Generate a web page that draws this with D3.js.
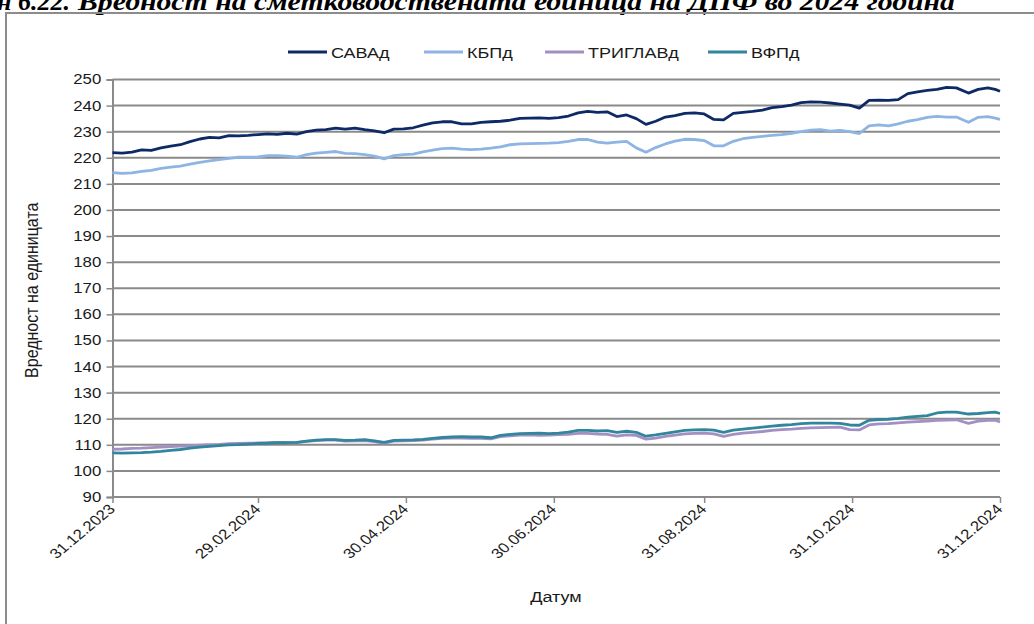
<!DOCTYPE html>
<html>
<head>
<meta charset="utf-8">
<script src="https://cdn.jsdelivr.net/npm/d3@7"></script>
<style>
  html, body { margin: 0; padding: 0; background: #fff; }
  svg { display: block; }
  text { font-family: "Liberation Sans", Arial, sans-serif; fill: #1a1a1a; }
</style>
</head>
<body>
<svg id="chart" width="1034" height="624"></svg>
<script>
// ---- DATA ----
const dates = [
  "2023-12-31","2024-01-04","2024-01-08","2024-01-12","2024-01-16","2024-01-20","2024-01-24","2024-01-28","2024-02-01","2024-02-05",
  "2024-02-09","2024-02-13","2024-02-17","2024-02-21","2024-02-25","2024-02-29","2024-03-04","2024-03-08","2024-03-12","2024-03-16",
  "2024-03-20","2024-03-24","2024-03-28","2024-04-01","2024-04-05","2024-04-09","2024-04-13","2024-04-17","2024-04-21","2024-04-25",
  "2024-04-29","2024-05-03","2024-05-07","2024-05-11","2024-05-15","2024-05-19","2024-05-23","2024-05-27","2024-05-31","2024-06-04",
  "2024-06-08","2024-06-12","2024-06-16","2024-06-20","2024-06-24","2024-06-28","2024-07-02","2024-07-06","2024-07-10","2024-07-14",
  "2024-07-18","2024-07-22","2024-07-26","2024-07-30","2024-08-03","2024-08-07","2024-08-11","2024-08-15","2024-08-19","2024-08-23",
  "2024-08-27","2024-08-31","2024-09-04","2024-09-08","2024-09-12","2024-09-16","2024-09-20","2024-09-24","2024-09-28","2024-10-02",
  "2024-10-06","2024-10-10","2024-10-14","2024-10-18","2024-10-22","2024-10-26","2024-10-30","2024-11-03","2024-11-07","2024-11-11",
  "2024-11-15","2024-11-19","2024-11-23","2024-11-27","2024-12-01","2024-12-05","2024-12-09","2024-12-13",
  "2024-12-18","2024-12-22","2024-12-26","2024-12-29","2024-12-31"
];

const savaD = [
  222.0, 221.8, 222.2, 223.0, 222.8, 223.8, 224.5, 225.0, 226.2, 227.2,
  227.8, 227.6, 228.5, 228.4, 228.6, 228.9, 229.2, 229.0, 229.4, 229.1,
  230.0, 230.6, 230.8, 231.4, 231.0, 231.4, 230.8, 230.3, 229.6, 231.0,
  231.1, 231.5, 232.5, 233.4, 233.8, 233.8, 233.0, 233.0, 233.6, 233.8,
  234.0, 234.4, 235.1, 235.2, 235.3, 235.1, 235.4, 236.0, 237.2, 237.8,
  237.4, 237.6, 235.8, 236.4, 235.0, 232.8, 234.0, 235.6, 236.2, 237.0,
  237.2, 236.8, 234.7, 234.5, 237.0, 237.4, 237.8, 238.3, 239.2, 239.6,
  240.2, 241.1, 241.4, 241.3, 241.0, 240.6, 240.2, 239.0, 242.0, 242.1,
  242.0, 242.3, 244.6, 245.3, 245.8, 246.2, 247.0, 246.8,
  244.8, 246.2, 246.8, 246.2, 245.5
];

const kbpD = [
  214.3, 214.0, 214.2, 214.8, 215.2, 215.9, 216.4, 216.8, 217.6, 218.2,
  218.8, 219.3, 219.8, 220.2, 220.2, 220.3, 220.8, 220.8, 220.6, 220.2,
  221.2, 221.8, 222.1, 222.4, 221.7, 221.6, 221.2, 220.6, 219.6, 220.8,
  221.2, 221.4, 222.3, 222.9, 223.5, 223.7, 223.3, 223.1, 223.3, 223.7,
  224.2, 225.0, 225.3, 225.4, 225.5, 225.6, 225.8, 226.3, 227.0, 227.0,
  226.0, 225.6, 226.0, 226.3, 223.8, 222.1, 223.9, 225.3, 226.4, 227.1,
  227.0, 226.6, 224.6, 224.6, 226.3, 227.3, 227.8, 228.2, 228.6, 228.9,
  229.4, 230.0, 230.6, 230.8, 230.2, 230.5, 230.0, 229.3, 232.2, 232.6,
  232.2, 233.0, 234.0, 234.6, 235.5, 235.9, 235.6, 235.6,
  233.6, 235.5, 235.8, 235.2, 234.7
];

const triglavD = [
  108.3, 108.4, 108.6, 108.7, 108.9, 109.1, 109.3, 109.5, 109.7, 109.9,
  110.1, 110.2, 110.4, 110.5, 110.6, 110.7, 110.8, 110.9, 110.8, 110.8,
  111.3, 111.6, 111.8, 111.8, 111.4, 111.5, 111.6, 111.2, 110.6, 111.4,
  111.5, 111.6, 111.8, 112.2, 112.5, 112.6, 112.6, 112.5, 112.5, 112.3,
  113.1, 113.4, 113.7, 113.8, 113.6, 113.7, 113.9, 114.0, 114.4, 114.4,
  114.1, 114.0, 113.3, 113.8, 113.6, 112.2, 112.6, 113.2, 113.7, 114.2,
  114.4, 114.5, 114.2, 113.2, 114.0, 114.5, 114.8, 115.1, 115.5, 115.8,
  116.0, 116.3, 116.5, 116.6, 116.7, 116.8, 115.8, 115.7, 117.6, 118.0,
  118.1, 118.4, 118.7, 118.9, 119.1, 119.4, 119.5, 119.6,
  118.2, 119.1, 119.4, 119.4, 118.8
];

const vfpD = [
  106.9, 106.8, 106.9, 107.0, 107.2, 107.5, 107.9, 108.2, 108.7, 109.1,
  109.4, 109.7, 110.0, 110.1, 110.3, 110.5, 110.6, 110.8, 110.8, 110.9,
  111.4, 111.8, 112.0, 112.0, 111.7, 111.8, 112.0, 111.5, 110.9, 111.7,
  111.8, 111.9, 112.1, 112.5, 112.8, 113.0, 113.1, 113.0, 113.0, 112.7,
  113.6, 114.0, 114.3, 114.4, 114.5, 114.3, 114.5, 114.9, 115.5, 115.5,
  115.3, 115.4, 114.8, 115.2, 114.8, 113.3, 113.8, 114.4, 115.0, 115.5,
  115.7, 115.8, 115.6, 114.8, 115.6, 116.0, 116.4, 116.8, 117.2, 117.5,
  117.7, 118.1, 118.3, 118.3, 118.3, 118.2, 117.6, 117.5, 119.4, 119.7,
  119.8, 120.1, 120.6, 120.9, 121.2, 122.2, 122.5, 122.5,
  121.8, 122.0, 122.3, 122.5, 122.0
];

const seriesNames = ["САВАд", "КБПд", "ТРИГЛАВд", "ВФПд"];
const seriesColors = ["#0d2a66", "#8db4e2", "#a28fc4", "#31859c"];
const tickDates = ["2023-12-31","2024-02-29","2024-04-30","2024-06-30","2024-08-31","2024-10-31","2024-12-31"];
const tickLabels = ["31.12.2023","29.02.2024","30.04.2024","30.06.2024","31.08.2024","31.10.2024","31.12.2024"];
const yTicks = [90,100,110,120,130,140,150,160,170,180,190,200,210,220,230,240,250];
const titlePrefix = "Графикон 6.22.";
const titleText = "Вредност на сметководствената единица на ДПФ во 2024 година";
const yTitle = "Вредност на единицата";
const xTitle = "Датум";

// ---- CHART ----
const svg = d3.select("#chart");
const parse = d3.utcParse("%Y-%m-%d");
const plot = { left: 112.5, right: 1000, top: 79.5, bottom: 497 };
const gridColor = "#8a8a8a";
const SX = 1.2; // horizontal stretch of the source picture's text

const x = d3.scaleUtc()
  .domain([parse("2023-12-31"), parse("2024-12-31")])
  .range([plot.left, plot.right]);
const y = d3.scaleLinear().domain([90, 250]).range([plot.bottom, plot.top]);

// Title (clipped at the top in the source)
const titleFont = (sel) => sel
  .style("font-family", "'Liberation Serif', 'DejaVu Serif', serif")
  .style("font-weight", "bold").style("font-style", "italic")
  .style("font-size", "26px").style("fill", "#000");
svg.append("text")
  .attr("x", 70).attr("y", 9.5)
  .attr("text-anchor", "end")
  .call(titleFont)
  .text(titlePrefix);
svg.append("text")
  .attr("x", 78).attr("y", 9.5)
  .attr("textLength", 877).attr("lengthAdjust", "spacingAndGlyphs")
  .call(titleFont)
  .text(titleText);

// Outer chart border
svg.append("rect")
  .attr("x", 6).attr("y", 13).attr("width", 1100).attr("height", 700)
  .attr("fill", "none").attr("stroke", "#8c8c8c").attr("stroke-width", 2);

// Y axis
const yAxis = d3.axisLeft(y).tickValues(yTicks).tickSize(6).tickFormat(d3.format("d"));
const gy = svg.append("g").attr("transform", `translate(${plot.left},0)`).call(yAxis);
gy.select(".domain").attr("stroke", gridColor).attr("stroke-width", 2);
gy.selectAll(".tick line").attr("stroke", gridColor).attr("stroke-width", 1.5);
gy.selectAll(".tick text")
  .style("font-size", "14px").attr("fill", "#1a1a1a")
  .attr("x", -11.2 / SX)
  .attr("transform", `scale(${SX},1)`);

// Gridlines
svg.append("g").selectAll("line")
  .data(yTicks)
  .join("line")
  .attr("x1", plot.left).attr("x2", plot.right)
  .attr("y1", d => y(d)).attr("y2", d => y(d))
  .attr("stroke", gridColor).attr("stroke-width", 2);

// X axis
const xAxis = d3.axisBottom(x)
  .tickValues(tickDates.map(parse))
  .tickSize(6)
  .tickFormat((d, i) => tickLabels[i]);
const gx = svg.append("g").attr("transform", `translate(0,${plot.bottom})`).call(xAxis);
gx.select(".domain").remove();
gx.selectAll(".tick line").attr("stroke", gridColor).attr("stroke-width", 1.5);
gx.selectAll(".tick text")
  .style("font-size", "14px").attr("fill", "#1a1a1a")
  .attr("text-anchor", "end")
  .attr("dy", null).attr("y", 0).attr("x", 0)
  .attr("transform", `translate(3,13) scale(${SX},1) rotate(-45)`);

// Lines
const allSeries = [savaD, kbpD, triglavD, vfpD];
const line = d3.line()
  .x((d, i) => x(parse(dates[i])))
  .y(d => y(d));
allSeries.forEach((vals, k) => {
  svg.append("path")
    .datum(vals)
    .attr("fill", "none")
    .attr("stroke", seriesColors[k])
    .attr("stroke-width", 2.8)
    .attr("stroke-linejoin", "round")
    .attr("d", line);
});

// Legend
const legendX = [288, 424, 545, 708];
const lg = svg.append("g");
seriesNames.forEach((name, k) => {
  lg.append("line")
    .attr("x1", legendX[k]).attr("x2", legendX[k] + 39)
    .attr("y1", 52).attr("y2", 52)
    .attr("stroke", seriesColors[k]).attr("stroke-width", 3);
  lg.append("text")
    .attr("transform", `translate(${legendX[k] + 43},57.5) scale(${SX},1)`)
    .style("font-size", "15px")
    .text(name);
});

// Axis titles
svg.append("text")
  .attr("transform", `translate(38,${(plot.top + plot.bottom) / 2 + 2}) scale(${SX},1) rotate(-90)`)
  .attr("text-anchor", "middle")
  .style("font-size", "16px")
  .text(yTitle);
svg.append("text")
  .attr("transform", `translate(556,602) scale(${SX},1)`)
  .attr("text-anchor", "middle")
  .style("font-size", "15px")
  .text(xTitle);
</script>
</body>
</html>
